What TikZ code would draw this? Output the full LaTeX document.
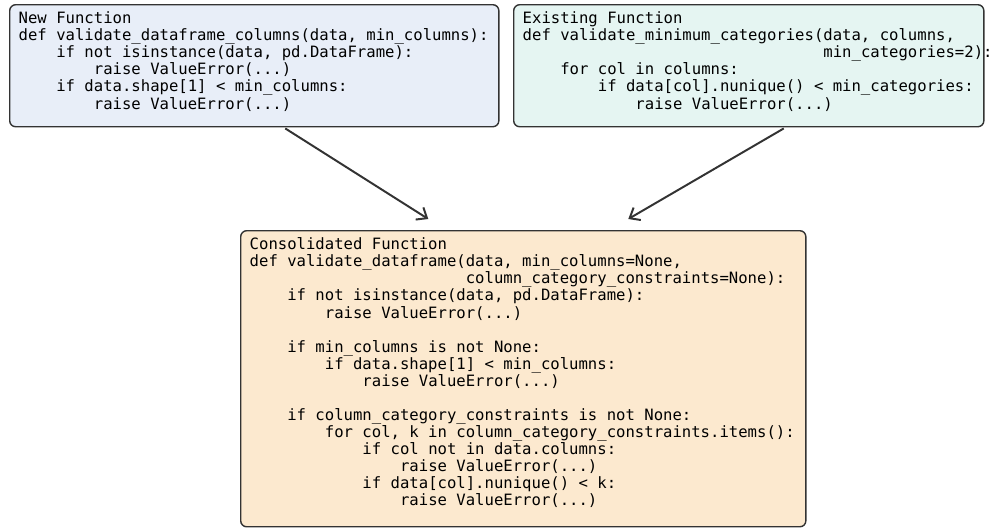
\documentclass[tikz,border=0pt]{standalone}
\usepackage{fontspec}
\setmonofont{DejaVu Sans Mono}
\usepackage{tikz}
\usetikzlibrary{arrows.meta, positioning, calc}
\definecolor{newfill}{RGB}{232, 238, 248}
\definecolor{oldfill}{RGB}{229, 245, 242}
\definecolor{mergefill}{RGB}{252, 233, 207}
\definecolor{edgegray}{RGB}{51, 51, 51}
% indentation by whole characters
\newcommand{\ind}[1]{\hspace*{\dimexpr#1\fontcharwd\font`x\relax}}
% code lines that never wrap
\newenvironment{codelines}{\begin{tabular}[t]{@{}l@{}}}{\end{tabular}}

\begin{document}
\begin{tikzpicture}[x=0.025cm, y=-0.025cm,
        every node/.style={font=\ttfamily\fontsize{11.1pt}{12.1pt}\selectfont},
        codebox/.style={draw=edgegray, line width=1pt, rounded corners=0.15cm, anchor=north west, inner xsep=0.225cm, inner ysep=0.18cm},
        arr/.style={-{Straight Barb[length=2.2mm, width=3.6mm, line width=1.4pt]}, line width=1.4pt, draw=edgegray}
    ]
    \useasboundingbox (0,0) rectangle (992,529);

    % Top row - the two source functions
    \node[codebox, fill=newfill] (newfn) at (9, 4) {\parbox[t][2.69cm][t]{11.775cm}{\begin{codelines}
        New Function\\
        def validate\_dataframe\_columns(data, min\_columns):\\
        \ind{4}if not isinstance(data, pd.DataFrame):\\
        \ind{8}raise ValueError(...)\\
        \ind{4}if data.shape[1] < min\_columns:\\
        \ind{8}raise ValueError(...)
    \end{codelines}}};
    \node[codebox, fill=oldfill] (oldfn) at (513, 4) {\parbox[t][2.69cm][t]{11.3cm}{\begin{codelines}
        Existing Function\\
        def validate\_minimum\_categories(data, columns,\\
        \ind{32}min\_categories=2):\\
        \ind{4}for col in columns:\\
        \ind{8}if data[col].nunique() < min\_categories:\\
        \ind{12}raise ValueError(...)
    \end{codelines}}};

    % Bottom - the merged function
    \node[codebox, fill=mergefill] (merged) at (240, 230) {\parbox[t][7.04cm][t]{13.675cm}{\begin{codelines}
        Consolidated Function\\
        def validate\_dataframe(data, min\_columns=None,\\
        \ind{23}column\_category\_constraints=None):\\
        \ind{4}if not isinstance(data, pd.DataFrame):\\
        \ind{8}raise ValueError(...)\\
        \\
        \ind{4}if min\_columns is not None:\\
        \ind{8}if data.shape[1] < min\_columns:\\
        \ind{12}raise ValueError(...)\\
        \\
        \ind{4}if column\_category\_constraints is not None:\\
        \ind{8}for col, k in column\_category\_constraints.items():\\
        \ind{12}if col not in data.columns:\\
        \ind{16}raise ValueError(...)\\
        \ind{12}if data[col].nunique() < k:\\
        \ind{16}raise ValueError(...)
    \end{codelines}}};

    % Arrows
    \draw[arr] ($(newfn.south)+(31,1)$) -- ($(merged.north)+(-95,-11)$);
    \draw[arr] ($(oldfn.south)+(35,1)$) -- ($(merged.north)+(105,-11)$);
\end{tikzpicture}
\end{document}
